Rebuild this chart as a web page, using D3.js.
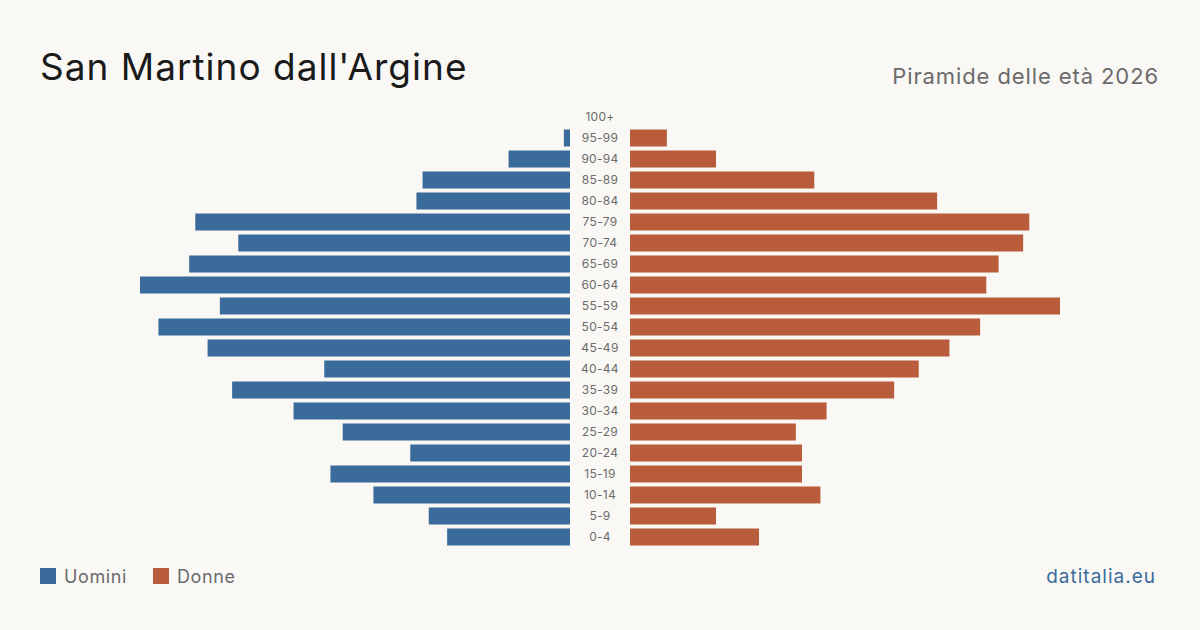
<!DOCTYPE html>
<html>
<head>
<meta charset="utf-8">
<script src="https://cdn.jsdelivr.net/npm/d3@7"></script>
<style>
  html, body { margin: 0; padding: 0; background: #f9f8f4; }
  svg { display: block; font-family: Inter, "Noto Sans", sans-serif; }
</style>
</head>
<body>
<div id="chart"></div>
<script>
// age classes, from youngest to oldest
var ages = ["0-4", "5-9", "10-14", "15-19", "20-24", "25-29", "30-34", "35-39", "40-44", "45-49",
  "50-54", "55-59", "60-64", "65-69", "70-74", "75-79", "80-84", "85-89", "90-94", "95-99", "100+"];

// residents per class
var men = [20, 23, 32, 39, 26, 37, 45, 55, 40, 59, 67, 57, 70, 62, 54, 61, 25, 24, 10, 1, 0];
var women = [21, 14, 31, 28, 28, 27, 32, 43, 47, 52, 57, 70, 58, 60, 64, 65, 50, 30, 14, 6, 0];

var legendLabels = ["Uomini", "Donne"];
var colors = ["#3a6b9b", "#b95c3c"];

var width = 1200, height = 630;

var svg = d3.select("#chart").append("svg")
  .attr("width", width)
  .attr("height", height);

svg.append("rect")
  .attr("width", width)
  .attr("height", height)
  .attr("fill", "#f9f8f4");

// titles
svg.append("text")
  .attr("x", 40)
  .attr("y", 80)
  .attr("font-size", 37)
  .attr("letter-spacing", 1)
  .attr("fill", "#1a1a1a")
  .text("San Martino dall'Argine");

svg.append("text")
  .attr("x", 1159)
  .attr("y", 84)
  .attr("text-anchor", "end")
  .attr("font-size", 22)
  .attr("letter-spacing", 0.9)
  .attr("fill", "#6b6b6b")
  .text("Piramide delle età 2026");

// scales
var maxVal = d3.max(men.concat(women));

var y = d3.scaleBand()
  .domain(ages.slice().reverse())
  .range([108.5, 545.5])
  .paddingInner(0.19)
  .paddingOuter(0);

var xLeft = d3.scaleLinear().domain([0, maxVal]).range([570, 140]);
var xRight = d3.scaleLinear().domain([0, maxVal]).range([630, 1060]);

var rows = ages.map(function (a, i) {
  return { age: a, m: men[i], f: women[i] };
});

// men bars
svg.append("g").selectAll("rect")
  .data(rows)
  .enter()
  .append("rect")
  .attr("x", d => xLeft(d.m))
  .attr("y", d => y(d.age))
  .attr("width", d => xLeft(0) - xLeft(d.m))
  .attr("height", y.bandwidth())
  .attr("fill", colors[0]);

// women bars
svg.append("g").selectAll("rect")
  .data(rows)
  .enter()
  .append("rect")
  .attr("x", xRight(0))
  .attr("y", d => y(d.age))
  .attr("width", d => xRight(d.f) - xRight(0))
  .attr("height", y.bandwidth())
  .attr("fill", colors[1]);

// age labels
svg.append("g").selectAll("text")
  .data(rows)
  .enter()
  .append("text")
  .attr("x", 600)
  .attr("y", d => y(d.age) + y.bandwidth() / 2)
  .attr("dy", "0.35em")
  .attr("text-anchor", "middle")
  .attr("font-size", 12)
  .attr("letter-spacing", 0.3)
  .attr("fill", "#6b6b6b")
  .text(d => d.age);

// legend
var legendX = [40, 153];
legendLabels.forEach(function (lab, i) {
  svg.append("rect")
    .attr("x", legendX[i])
    .attr("y", 568)
    .attr("width", 16)
    .attr("height", 16)
    .attr("fill", colors[i]);
  svg.append("text")
    .attr("x", legendX[i] + 24)
    .attr("y", 583)
    .attr("font-size", 18)
    .attr("letter-spacing", 0.6)
    .attr("fill", "#6b6b6b")
    .text(lab);
});

svg.append("text")
  .attr("x", 1156)
  .attr("y", 583)
  .attr("text-anchor", "end")
  .attr("font-size", 19)
  .attr("letter-spacing", 1)
  .attr("fill", "#3a6b9b")
  .text("datitalia.eu");
</script>
</body>
</html>
